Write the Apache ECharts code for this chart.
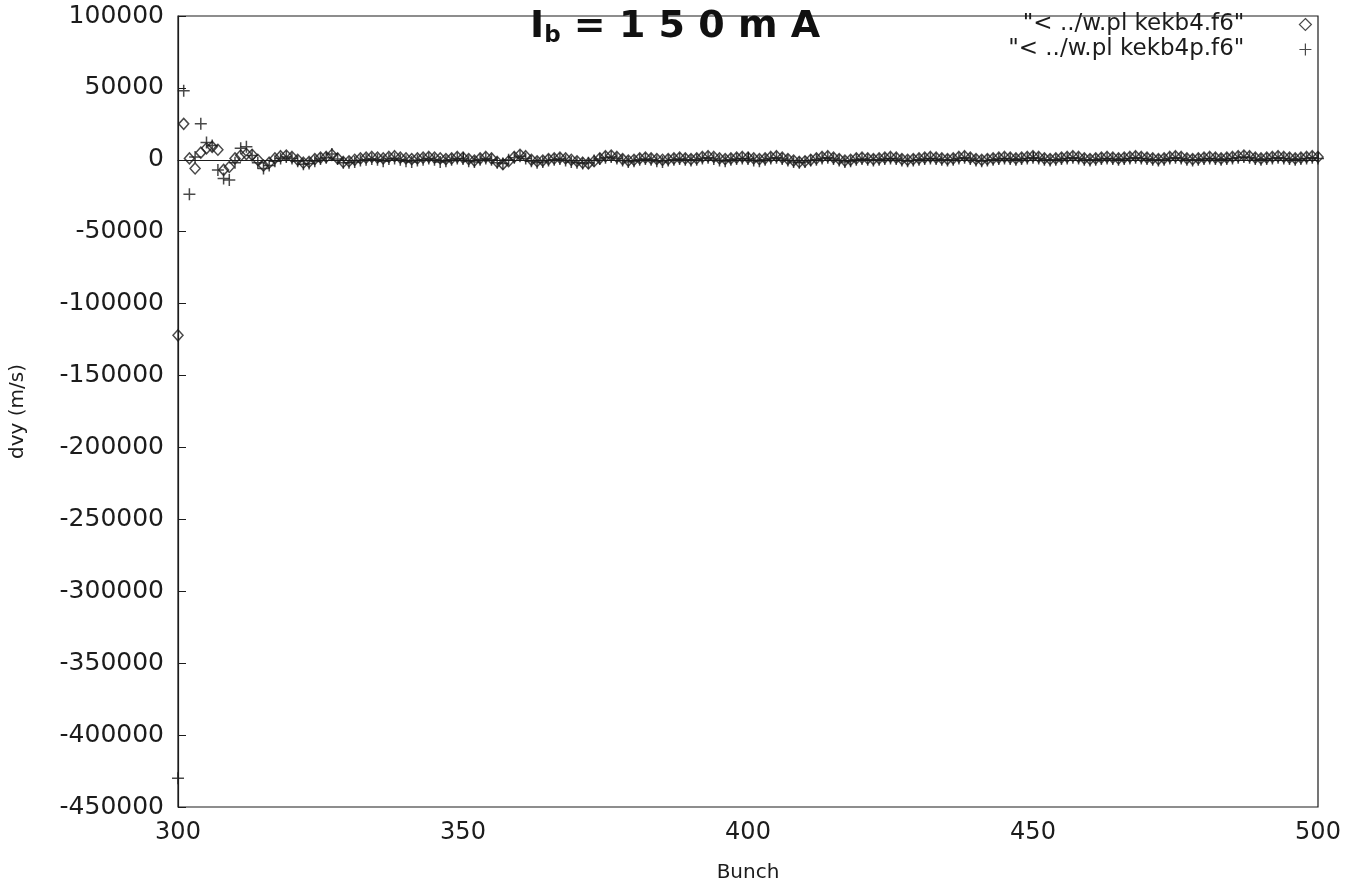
<!DOCTYPE html>
<html>
<head>
<meta charset="utf-8">
<script src="https://cdn.jsdelivr.net/npm/echarts@6/dist/echarts.min.js"></script>
<style>
  html, body { margin:0; padding:0; background:#fff; }
  #chart { width:1357px; height:890px; }
</style>
</head>
<body>
<div id="chart"></div>
<script>
// dvy per bunch (bunch 300 .. 500)
const firstBunch = 300
const xTicks = [300, 350, 400, 450, 500]
const yTicks = [100000, 50000, 0, -50000, -100000, -150000, -200000, -250000, -300000, -350000, -400000, -450000]

// "< ../w.pl kekb4.f6"  (diamonds)
const diamondDvy = [
  -122000, 25000, 1000, -6000, 5000, 8000, 9000, 7000, -7000, -5000,
  1000, 3000, 4000, 3500, 0, -4000, -2000, 1000, 2500, 3000,
  2000, 0, -2000, -1500, 500, 1500, 2000, 3500, 1000, -1500,
  -1000, 0, 1000, 1500, 2000, 1500, 1000, 2000, 2500, 1500,
  1000, 500, 1000, 1500, 2000, 1500, 1000, 500, 1000, 2000,
  1500, 500, -500, 1000, 2000, 1000, -1500, -3000, -1000, 2000,
  3500, 2500, 0, -1000, -500, 500, 1000, 1500, 1000, 0,
  -1000, -2000, -2500, -1000, 1000, 2500, 3000, 2000, 500, -500,
  0, 1000, 1500, 1000, 500, 0, 500, 1000, 1500, 1000,
  500, 1000, 2000, 2500, 2000, 1000, 500, 1000, 1500, 2000,
  1500, 1000, 500, 1000, 2000, 2500, 1500, 500, -500, -1500,
  -1000, 0, 1000, 2000, 2500, 1500, 500, -500, 0, 1000,
  1500, 1000, 500, 1000, 1500, 2000, 1500, 500, 0, 500,
  1000, 1500, 2000, 1500, 1000, 500, 1000, 2000, 2500, 1500,
  500, 0, 500, 1000, 1500, 2000, 1500, 1000, 1500, 2000,
  2500, 2000, 1000, 500, 1000, 1500, 2000, 2500, 2000, 1000,
  500, 1000, 1500, 2000, 1500, 1000, 1500, 2000, 2500, 2000,
  1500, 1000, 500, 1000, 2000, 2500, 2000, 1000, 500, 1000,
  1500, 2000, 1500, 1000, 1500, 2000, 2500, 3000, 2500, 1500,
  1000, 1500, 2000, 2500, 2000, 1500, 1000, 1500, 2000, 2500,
  2000
]

// "< ../w.pl kekb4p.f6"  (plus signs)
const plusDvy = [
  -430000, 48000, -24000, 2000, 25000, 12000, 10000, -7000, -13000, -14000,
  -2000, 8000, 9000, 3000, -2000, -6000, -4000, -1000, 1000, 2000,
  1000, -1000, -3000, -2500, -1000, 500, 1500, 4000, 500, -2000,
  -2000, -1500, -500, 0, 500, 0, -1000, 500, 1000, 0,
  -1000, -1500, -500, 0, 1000, 0, -1500, -1000, 0, 1000,
  500, -1000, -1500, 0, 1000, 0, -2000, -2500, 0, 1500,
  2500, 1000, -1000, -2000, -1500, -500, 0, 500, -500, -1500,
  -2000, -2500, -2000, -500, 500, 1500, 2000, 1000, -500, -1500,
  -1000, 0, 500, 0, -1000, -1500, -500, 0, 500, 0,
  -500, 0, 1000, 1500, 500, -500, -1000, 0, 500, 1000,
  500, -500, -1000, 0, 1000, 1500, 500, -500, -1500, -2000,
  -1500, -500, 0, 1000, 1500, 500, -500, -1500, -1000, 0,
  500, 0, -500, 0, 500, 1000, 500, -500, -1000, -500,
  0, 500, 1000, 500, 0, -500, 0, 1000, 1500, 500,
  -500, -1000, -500, 0, 500, 1000, 500, 0, 500, 1000,
  1500, 1000, 0, -500, 0, 500, 1000, 1500, 1000, 0,
  -500, 0, 500, 1000, 500, 0, 500, 1000, 1500, 1000,
  500, 0, -500, 0, 1000, 1500, 1000, 0, -500, 0,
  500, 1000, 500, 0, 500, 1000, 1500, 2000, 1500, 500,
  0, 500, 1000, 1500, 1000, 500, 0, 500, 1000, 1500,
  1000
]

const seriesNames = ['"< ../w.pl kekb4.f6"', '"< ../w.pl kekb4p.f6"']

const ink = '#1c1c1c'
const labelFont = '"DejaVu Sans", "Liberation Sans", sans-serif'
const plusPath = 'path://M0,5 L10,5 M5,0 L5,10'

function toPoints(values){
  return values.map((v, i) => [firstBunch + i, v])
}

const chart = echarts.init(document.getElementById('chart'), null, { renderer: 'canvas' })
chart.setOption({
  animation: false,
  backgroundColor: '#fff',
  textStyle: { fontFamily: labelFont, color: ink },
  grid: {
    left: 178, right: 39, top: 16, bottom: 83,
    show: true, borderColor: ink, borderWidth: 1.2, backgroundColor: 'transparent'
  },
  legend: {
    orient: 'vertical',
    right: 40, top: 8,
    align: 'right',
    itemGap: 2,
    itemWidth: 12, itemHeight: 12,
    textStyle: { fontSize: 23, color: ink, padding: [0, 50, 0, 0], fontFamily: labelFont },
    data: [
      { name: seriesNames[0], icon: 'diamond', itemStyle: { color: 'transparent', borderColor: ink, borderWidth: 1.2 } },
      { name: seriesNames[1], icon: plusPath, itemStyle: { color: 'transparent', borderColor: ink, borderWidth: 1.2 } }
    ]
  },
  graphic: [{
    type: 'text',
    left: 530, top: 8,
    style: {
      text: 'I{b|b} = 1 5 0 m A',
      font: 'bold 38px "DejaVu Sans", sans-serif',
      fill: '#111',
      rich: {
        b: { font: 'bold 23px "DejaVu Sans", sans-serif', fill: '#111', padding: [18, 0, 0, 0] }
      }
    }
  }],
  xAxis: {
    type: 'value',
    min: 300, max: 500, interval: 50,
    name: 'Bunch', nameLocation: 'middle', nameGap: 56,
    nameTextStyle: { fontSize: 20, color: ink },
    axisLine: { show: true, lineStyle: { color: ink, width: 1.2 } },
    axisTick: { show: true, inside: true, length: 8, lineStyle: { color: ink } },
    axisLabel: { fontSize: 24, color: ink, margin: 14, customValues: xTicks, formatter: v => String(v) },
    splitLine: { show: false }
  },
  yAxis: {
    type: 'value',
    min: -450000, max: 100000, interval: 50000,
    name: 'dvy (m/s)', nameLocation: 'middle', nameGap: 150, nameRotate: 90,
    nameTextStyle: { fontSize: 20, color: ink },
    axisLine: { show: true, lineStyle: { color: ink, width: 1.2 } },
    axisTick: { show: true, inside: true, length: 8, lineStyle: { color: ink } },
    axisLabel: { fontSize: 25, color: ink, margin: 14, customValues: yTicks, formatter: v => String(v) },
    splitLine: { show: false }
  },
  series: [
    {
      name: seriesNames[0],
      type: 'scatter',
      symbol: 'diamond',
      symbolSize: [10, 11],
      itemStyle: { color: 'transparent', borderColor: ink, borderWidth: 1.5 },
      data: toPoints(diamondDvy)
    },
    {
      name: seriesNames[1],
      type: 'scatter',
      symbol: plusPath,
      symbolSize: 12,
      itemStyle: { color: 'transparent', borderColor: ink, borderWidth: 1.5 },
      data: toPoints(plusDvy)
    }
  ]
})
</script>
</body>
</html>
